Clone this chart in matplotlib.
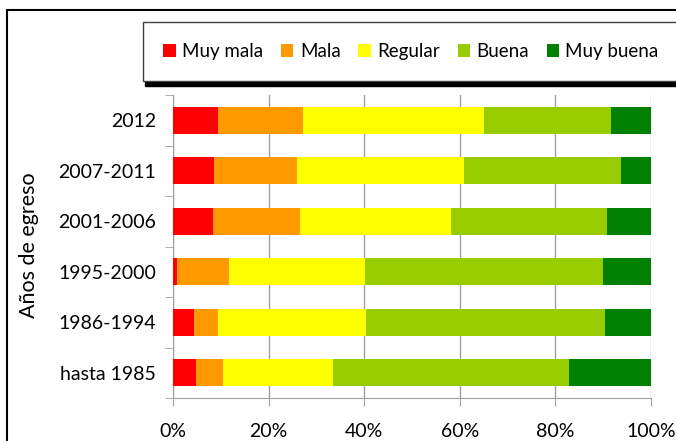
import matplotlib.pyplot as plt
import numpy as np
from matplotlib.patches import Rectangle

plt.rcParams['font.family'] = ['Lato', 'DejaVu Sans']

categories = ['hasta 1985', '1986-1994', '1995-2000', '2001-2006', '2007-2011', '2012']
series     = ['Muy mala', 'Mala', 'Regular', 'Buena', 'Muy buena']
colors     = ['#FF0000', '#FF9900', '#FFFF00', '#99CC00', '#008000']

muy_mala  = [4.9, 4.3, 0.9, 8.3, 8.5, 9.5]
mala      = [5.5, 5.2, 10.9, 18.2, 17.4, 17.6]
regular   = [23.1, 30.8, 28.3, 31.7, 35.0, 37.9]
buena     = [49.4, 50.1, 49.9, 32.6, 32.9, 26.7]
muy_buena = [17.1, 9.6, 10.0, 9.2, 6.2, 8.3]

xticks = [0, 20, 40, 60, 80, 100]

W, H = 676, 441
fig = plt.figure(figsize=(W / 100, H / 100), dpi=100)
ax = fig.add_axes([173 / W, 1 - 398 / H, (651 - 173) / W, (398 - 95) / H])

# outer chart border
fig.patches.append(Rectangle((7 / W, -0.05), 1.0, 1 - 10 / H + 0.05,
                             transform=fig.transFigure, fill=False,
                             edgecolor='black', linewidth=1.5))

y = np.arange(len(categories))
left = np.zeros(len(categories))
for name, vals, col in zip(series, [muy_mala, mala, regular, buena, muy_buena], colors):
    ax.barh(y, vals, left=left, height=0.53, color=col, label=name, zorder=3)
    left += np.array(vals)

ax.set_xlim(0, 100)
ax.set_ylim(-0.5, len(categories) - 0.5)
ax.set_xticks(xticks)
ax.set_xticklabels([f'{t}%' for t in xticks], fontsize=14)
ax.set_yticks(y)
ax.set_yticklabels(categories, fontsize=14)
ax.set_yticks(np.arange(-0.5, len(categories)), minor=True)
ax.tick_params(axis='y', which='major', length=0, pad=12)
ax.tick_params(axis='y', which='minor', length=6, color='#A0A0A0')
ax.tick_params(axis='x', length=6, color='#A0A0A0', pad=12)
ax.xaxis.grid(True, color='#A0A0A0', linewidth=1, zorder=0)
for s in ['top', 'right']:
    ax.spines[s].set_visible(False)
for s in ['left', 'bottom']:
    ax.spines[s].set_color('#A0A0A0')

fig.text(29 / W, 1 - 245 / H, 'Años de egreso', rotation=90, fontsize=15.5,
         ha='center', va='center')

leg = fig.legend(loc='center', bbox_to_anchor=(411 / W, 1 - 51.5 / H), ncol=5,
                 fontsize=13.5, frameon=True, fancybox=False,
                 shadow={'color': 'black', 'alpha': 1, 'ox': 2, 'oy': -4},
                 handlelength=0.65, handleheight=0.65, handletextpad=0.35,
                 columnspacing=0.95, borderpad=1.1, borderaxespad=0)
leg.get_frame().set_edgecolor('#404040')
leg.get_frame().set_linewidth(1)

fig.savefig('out.png', dpi=100)
